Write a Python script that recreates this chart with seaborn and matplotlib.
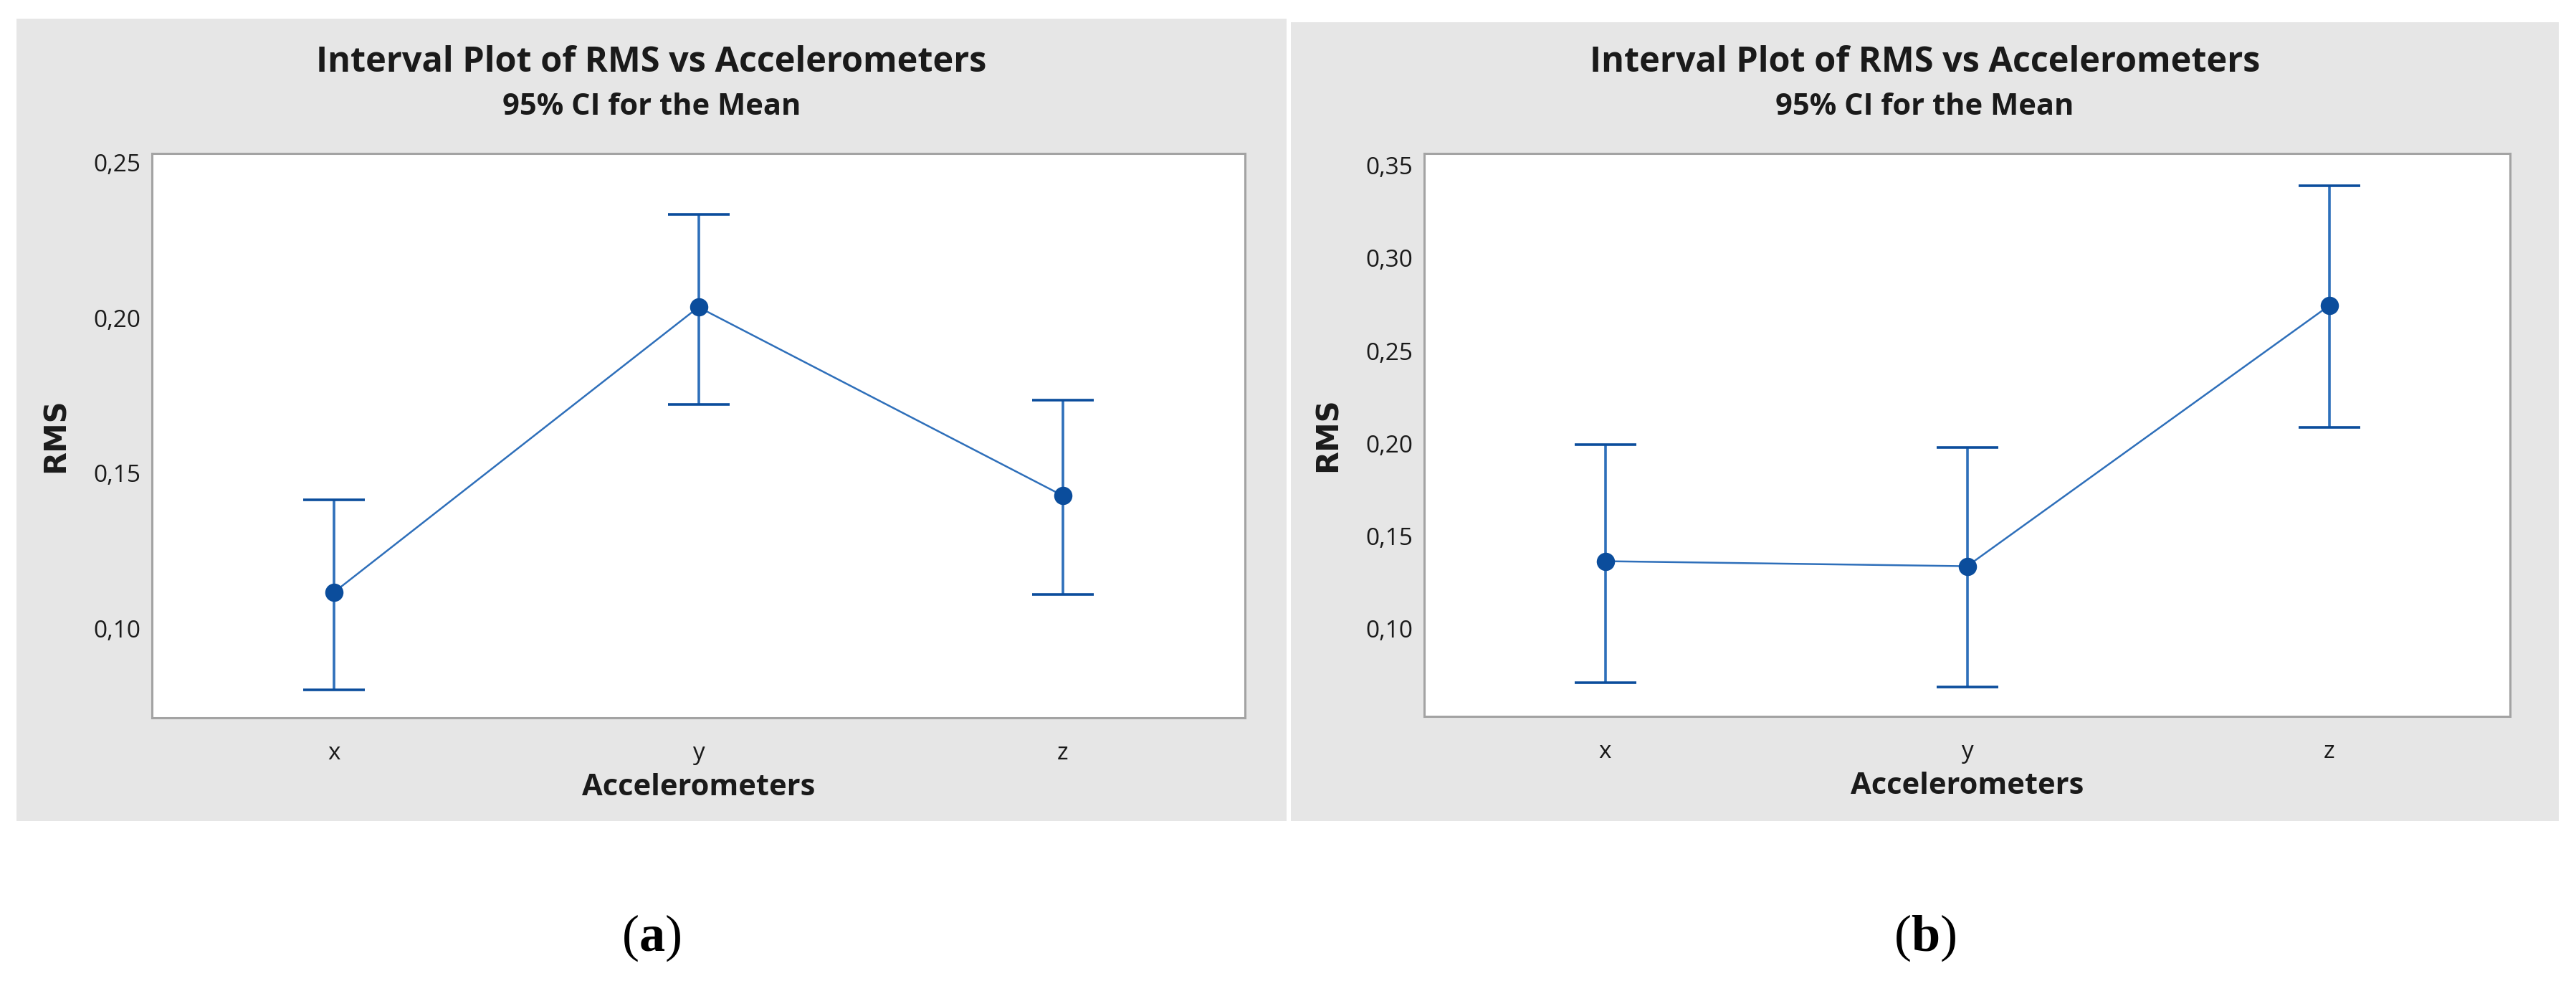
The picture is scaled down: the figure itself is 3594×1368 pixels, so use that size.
import matplotlib
matplotlib.use("Agg")
import matplotlib.pyplot as plt
import matplotlib.ticker as mticker
from matplotlib.patches import Rectangle
import pandas as pd
import seaborn as sns

# Interval plot data (95% CI for the mean)
accelerometers = ["x", "y", "z"]

rms_mean_a = [0.1118, 0.2034, 0.1428]
rms_lower_a = [0.0803, 0.1721, 0.1110]
rms_upper_a = [0.1415, 0.2333, 0.1734]
yticks_a = [0.10, 0.15, 0.20, 0.25]

rms_mean_b = [0.1365, 0.1338, 0.2743]
rms_lower_b = [0.0710, 0.0686, 0.2088]
rms_upper_b = [0.1993, 0.1980, 0.3389]
yticks_b = [0.10, 0.15, 0.20, 0.25, 0.30, 0.35]

sns.set_style("white")
plt.rcParams["font.family"] = ["Open Sans", "DejaVu Sans"]
plt.rcParams["mathtext.fontset"] = "custom"
plt.rcParams["mathtext.rm"] = "Liberation Serif"
plt.rcParams["mathtext.bf"] = "Liberation Serif:bold"

LINE = "#2e6fba"
MARK = "#0b4d9c"
PANEL = "#e6e6e6"
FRAME = "#a3a3a3"
TXT = "#1a1a1a"

W, H = 3594, 1368
fig = plt.figure(figsize=(W / 100, H / 100), dpi=100)
fig.patch.set_facecolor("white")

comma = mticker.FuncFormatter(lambda v, p: f"{v:.2f}".replace(".", ","))


def px(x0, y0, x1, y1):
    # pixel box (from top-left) -> figure fraction rect
    return [x0 / W, 1 - y1 / H, (x1 - x0) / W, (y1 - y0) / H]


def panel(box, axbox, means, lower, upper, yticks, ylim, tag):
    r = px(*box)
    fig.patches.append(Rectangle((r[0], r[1]), r[2], r[3], transform=fig.transFigure,
                                 facecolor=PANEL, edgecolor="none", zorder=-5))
    cx = (box[0] + box[2]) / 2 / W
    fig.text(cx, 1 - 88 / H, "Interval Plot of RMS vs Accelerometers", ha="center", va="center",
             fontsize=35, fontweight="bold", color=TXT)
    fig.text(cx, 1 - 150 / H, "95% CI for the Mean", ha="center", va="center",
             fontsize=30, fontweight="bold", color=TXT)
    fig.text(cx, 1 - 1308 / H, r"($\mathbf{" + tag + r"}$)", ha="center", va="center",
             fontsize=52, family="Liberation Serif", color="black")

    ax = fig.add_axes(px(*axbox))
    ax.set_facecolor("white")
    df = pd.DataFrame({"Accelerometers": accelerometers, "RMS": means})
    yerr = [[m - lo for m, lo in zip(means, lower)], [hi - m for m, hi in zip(means, upper)]]
    ax.errorbar(range(len(accelerometers)), means, yerr=yerr, fmt="none", ecolor=LINE,
                elinewidth=2.6, capsize=31, capthick=2.6, zorder=2)
    sns.pointplot(data=df, x="Accelerometers", y="RMS", errorbar=None, color=LINE,
                  markers="o", markersize=17, linewidth=1.8, ax=ax, zorder=3)
    for ln in ax.lines:
        ln.set_markerfacecolor(MARK)
        ln.set_markeredgecolor(MARK)

    ax.set_xlim(-0.5, 2.5)
    ax.set_ylim(*ylim)
    ax.set_yticks(yticks)
    ax.yaxis.set_major_formatter(comma)
    ax.tick_params(axis="both", colors=FRAME, labelcolor=TXT, labelsize=24, width=1.5,
                   direction="out")
    ax.tick_params(axis="x", length=10, pad=14)
    ax.tick_params(axis="y", length=7, pad=4)
    for s in ax.spines.values():
        s.set_color(FRAME)
        s.set_linewidth(2.2)
    ax.set_xlabel("Accelerometers", fontsize=30, fontweight="bold", color=TXT, labelpad=8)
    ax.set_ylabel("RMS", fontsize=30, fontweight="bold", color=TXT, labelpad=23,
                  family="DejaVu Sans")
    return ax


panel((23, 26, 1795, 1145), (212, 214, 1737, 1001),
      rms_mean_a, rms_lower_a, rms_upper_a, yticks_a, (0.0714, 0.2528), "a")
panel((1801, 31, 3570, 1145), (1987, 214, 3502, 999),
      rms_mean_b, rms_lower_b, rms_upper_b, yticks_b, (0.0528, 0.3564), "b")

fig.savefig("out.png", dpi=100, facecolor="white")
